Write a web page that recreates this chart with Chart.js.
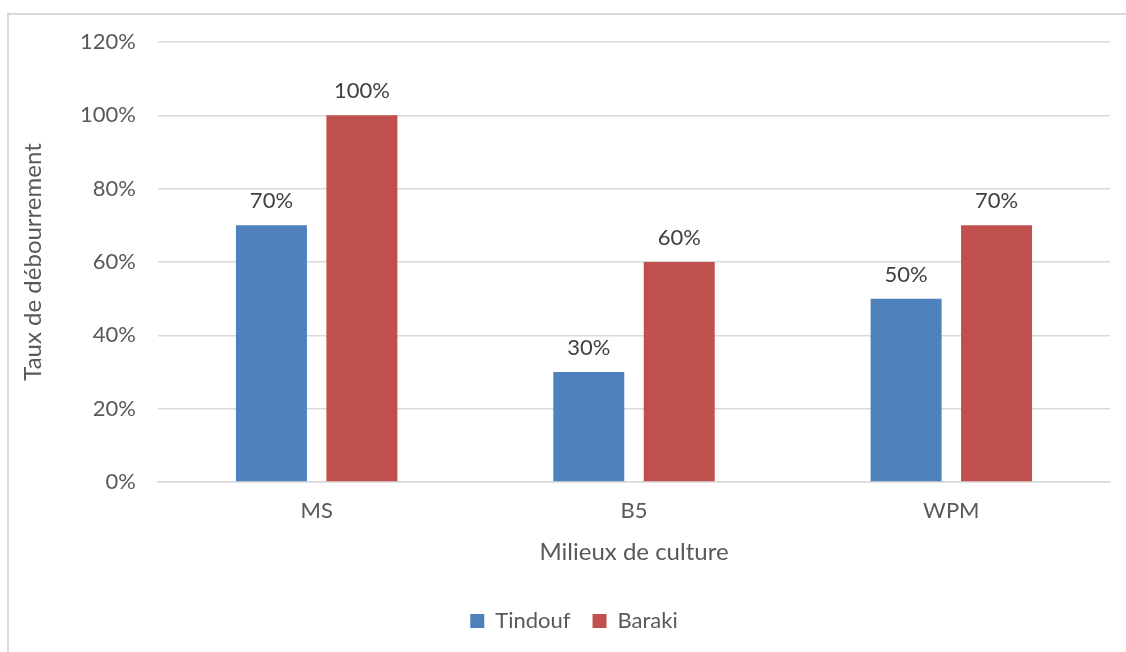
<!DOCTYPE html>
<html>
<head>
<meta charset="utf-8">
<script src="https://cdn.jsdelivr.net/npm/chart.js@4"></script>
<style>
  body { margin: 0; overflow: hidden; background: #fff; }
  #frame { position: absolute; left: 7px; top: 13px; width: 1140px; height: 700px; border: 2px solid #d9d9d9; }
  #myChart { position: absolute; left: 0; top: 0; }
</style>
</head>
<body>
<div id="frame"></div>
<canvas id="myChart" width="1126" height="642"></canvas>
<script>
const milieux = ['MS', 'B5', 'WPM'];
const tindouf = [70, 30, 50];
const baraki = [100, 60, 70];

const fontFamily = 'Lato, "Open Sans", sans-serif';

// writes the percentage above each bar
const barValues = {
  id: 'barValues',
  afterDatasetsDraw(chart) {
    const c = chart.ctx;
    c.save();
    c.font = '22px ' + fontFamily;
    c.fillStyle = '#404040';
    c.textAlign = 'center';
    c.textBaseline = 'alphabetic';
    chart.data.datasets.forEach((ds, i) => {
      chart.getDatasetMeta(i).data.forEach((bar, j) => {
        c.fillText(ds.data[j] + '%', bar.x, bar.y - 17);
      });
    });
    c.restore();
  }
};

// nudge the legend a bit to the right
const legendShift = {
  id: 'legendShift',
  afterLayout(chart) {
    if (chart.legend) chart.legend.left += 28;
  }
};

const ctx = document.getElementById('myChart');

new Chart(ctx, {
  type: 'bar',
  data: {
    labels: milieux,
    datasets: [{
      label: 'Tindouf',
      data: tindouf,
      backgroundColor: '#4f81bd',
      categoryPercentage: 0.57,
      barPercentage: 0.785
    }, {
      label: 'Baraki',
      data: baraki,
      backgroundColor: '#c0504d',
      categoryPercentage: 0.57,
      barPercentage: 0.785
    }]
  },
  options: {
    responsive: false,
    animation: false,
    layout: { padding: { left: 10, right: 16, top: 42, bottom: 0 } },
    plugins: {
      legend: {
        position: 'bottom',
        labels: {
          font: { family: fontFamily, size: 22 },
          color: '#595959',
          boxWidth: 14,
          boxHeight: 14,
          padding: 22
        }
      },
      tooltip: { enabled: false }
    },
    scales: {
      x: {
        grid: { display: false },
        border: { color: '#d9d9d9', width: 1.5 },
        ticks: { font: { family: fontFamily, size: 22 }, color: '#595959', padding: 8 },
        title: {
          display: true,
          text: 'Milieux de culture',
          font: { family: fontFamily, size: 24 },
          color: '#595959',
          padding: { top: 4, bottom: 21.6 }
        },
        afterFit(scale) { scale.height = 106; }
      },
      y: {
        min: 0,
        max: 120,
        ticks: {
          stepSize: 20,
          font: { family: fontFamily, size: 22 },
          color: '#595959',
          padding: 22,
          callback: v => v + '%'
        },
        grid: { color: '#d9d9d9', lineWidth: 1.5, drawTicks: false },
        border: { display: false },
        title: {
          display: true,
          text: 'Taux de débourrement',
          font: { family: fontFamily, size: 24 },
          color: '#595959',
          padding: { top: 8.6, bottom: 4 }
        },
        afterFit(scale) { scale.width = 148; }
      }
    }
  },
  plugins: [barValues, legendShift]
});
</script>
</body>
</html>
